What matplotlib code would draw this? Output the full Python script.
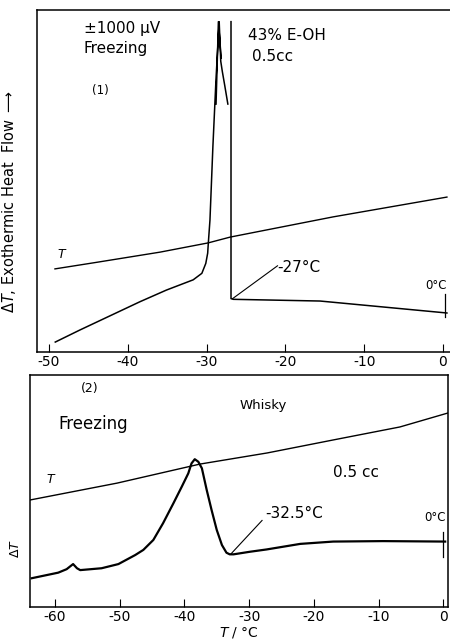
import numpy as np
import matplotlib
matplotlib.use('Agg')
import matplotlib.pyplot as plt

plt.rcParams['font.family'] = ['DejaVu Sans']
plt.rcParams['mathtext.fontset'] = 'dejavusans'

nan = np.nan

# ---- panel (1): 43% E-OH, 0.5cc ----
t1_temp_x = [-49.24, -44.0, -35.9, -29.8, -27.0, -13.96, 0.5]
t1_temp_y = [24.3, 26.2, 29.2, 31.9, 33.6, 39.5, 45.3]

dt1_x = [-49.2, -46.1, -38.45, -35.1, -31.7, -30.6, -30.1, -29.86, -29.78, -29.57,
         -29.2, -28.8, -28.4, -28.2, -28.0, -27.7, -27.3, nan,
         -28.8, -28.5, -28.15, nan,
         -26.9, -26.9, -26.6, -15.6, 0.5]
dt1_y = [2.9, 6.4, 14.7, 18.1, 21.1, 23.0, 25.9, 28.9, 31.8, 38.6,
         60.0, 80.0, 96.6, 85.0, 82.0, 78.0, 72.5, nan,
         72.5, 96.6, 86.0, nan,
         96.6, 15.6, 15.4, 14.9, 11.4]

# ---- panel (2): Whisky, 0.5 cc ----
t2_temp_x = [-63.9, -50.4, -37.6, -27.2, -17.0, -6.7, 0.7]
t2_temp_y = [46.1, 53.4, 61.6, 66.4, 72.0, 77.6, 83.6]

dt2_x = [-63.6, -59.5, -58.2, -57.2, -56.6, -56.1, -52.8, -50.2, -47.6, -46.35,
         -44.8, -43.3, -41.7, -40.4, -39.4, -38.9, -38.4, -37.85, -37.3, -36.55,
         -35.8, -35.0, -34.2, -33.5, -33.0, -32.4, -29.9, -27.3, -22.1, -17.0,
         -9.3, 0.3]
dt2_y = [12.4, 14.8, 16.3, 18.5, 16.7, 15.9, 16.7, 18.5, 22.4, 24.6,
         28.9, 36.1, 44.7, 51.9, 57.6, 61.9, 63.7, 62.6, 59.8, 50.4,
         41.8, 33.2, 26.7, 23.4, 22.7, 22.7, 23.8, 24.8, 27.2, 28.2,
         28.4, 28.2]

ticks1 = [-50, -40, -30, -20, -10, 0]
ticklabels1 = ['-50', '-40', '-30', '-20', '-10', '0']
ticks2 = [-60, -50, -40, -30, -20, -10, 0]
ticklabels2 = ['-60', '-50', '-40', '-30', '-20', '-10', '0']

fig = plt.figure(figsize=(4.5, 6.43), dpi=100)

# ---- top panel ----
ax1 = fig.add_axes([0.0822, 0.4526, 0.9178, 0.5318])
ax1.plot(t1_temp_x, t1_temp_y, color='black', linewidth=1.0)
ax1.plot(dt1_x, dt1_y, color='black', linewidth=1.1)
ax1.plot([-26.7, -21.0], [15.6, 25.2], color='black', linewidth=0.8)
ax1.plot([0.25, 0.25], [10.2, 16.9], color='black', linewidth=0.9)
ax1.set_xlim(-51.52, 0.89)
ax1.set_ylim(0, 100)
ax1.set_xticks(ticks1)
ax1.set_xticklabels(ticklabels1)
ax1.set_yticks([])
ax1.tick_params(axis='x', direction='in', length=6, labelsize=10, pad=2)
ax1.spines['right'].set_visible(False)
for s in ax1.spines.values():
    s.set_linewidth(1.1)

ax1.text(-45.5, 94.5, '±1000 μV', fontsize=11, va='center')
ax1.text(-45.6, 88.8, 'Freezing', fontsize=11, va='center')
ax1.text(-44.6, 76.6, '(1)', fontsize=8.5, va='center')
ax1.text(-24.8, 92.6, '43% E-OH', fontsize=11, va='center')
ax1.text(-24.2, 86.5, '0.5cc', fontsize=11, va='center')
ax1.text(-21.0, 24.6, '-27°C', fontsize=11, va='center')
ax1.text(-49.0, 26.6, '$T$', fontsize=9, va='bottom')
ax1.text(-0.9, 17.4, '0°C', fontsize=8.5, ha='center', va='bottom')
ax1.set_ylabel('$\\Delta T$, Exothermic Heat  Flow $\\longrightarrow$',
               fontsize=10.5, labelpad=2)
ax1.yaxis.set_label_coords(-0.045, 0.44)

# ---- bottom panel ----
ax2 = fig.add_axes([0.0667, 0.056, 0.9289, 0.3608])
ax2.plot(t2_temp_x, t2_temp_y, color='black', linewidth=1.0)
ax2.plot(dt2_x, dt2_y, color='black', linewidth=1.6)
ax2.plot([-32.8, -28.0], [22.9, 37.3], color='black', linewidth=0.8)
ax2.plot([0.0, 0.0], [21.7, 32.5], color='black', linewidth=0.9)
ax2.set_xlim(-63.86, 0.74)
ax2.set_ylim(0, 100)
ax2.set_xticks(ticks2)
ax2.set_xticklabels(ticklabels2)
ax2.set_yticks([])
ax2.tick_params(axis='x', direction='in', length=6, labelsize=10, pad=2)
for s in ax2.spines.values():
    s.set_linewidth(1.1)

ax2.text(-56.0, 94.0, '(2)', fontsize=9, va='center')
ax2.text(-31.5, 87.0, 'Whisky', fontsize=9.5, va='center')
ax2.text(-59.4, 79.0, 'Freezing', fontsize=12, va='center')
ax2.text(-17.0, 58.0, '0.5 cc', fontsize=11, va='center')
ax2.text(-27.5, 40.5, '-32.5°C', fontsize=11, va='center')
ax2.text(-61.4, 52.0, '$T$', fontsize=9, va='bottom')
ax2.text(-1.2, 35.8, '0°C', fontsize=8.5, ha='center', va='bottom')
ax2.set_ylabel('$\\Delta T$', fontsize=9, labelpad=2)
ax2.yaxis.set_label_coords(-0.02, 0.25)
ax2.set_xlabel('$T$ / °C', fontsize=10, labelpad=1)

fig.savefig('out.png', dpi=100)
